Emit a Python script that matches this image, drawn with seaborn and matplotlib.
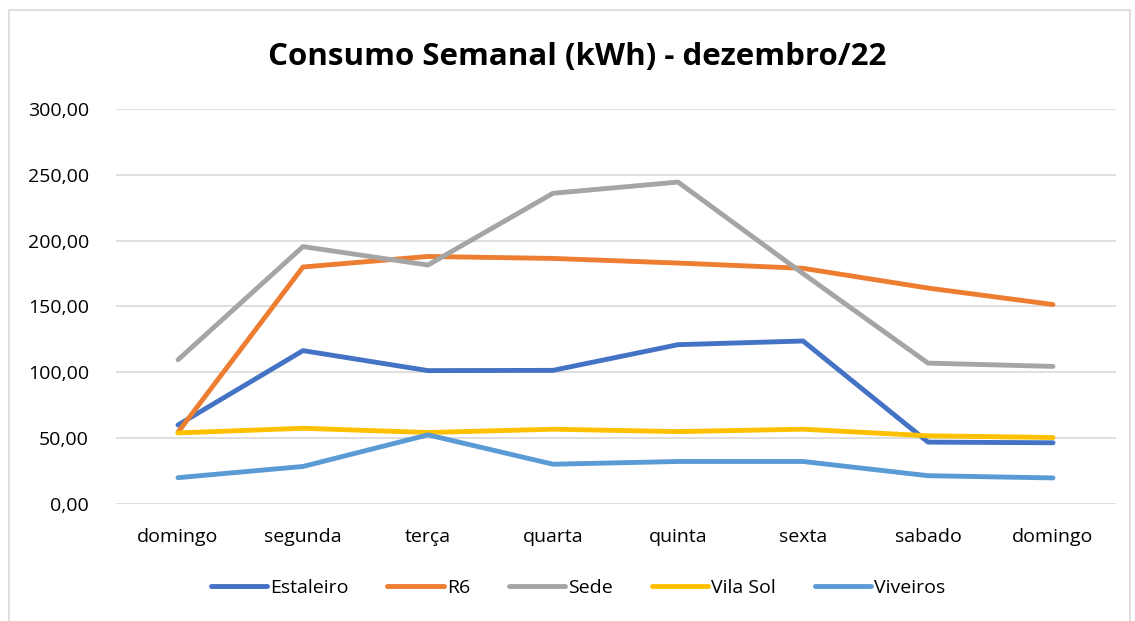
import pandas as pd
import seaborn as sns
import matplotlib.pyplot as plt
from matplotlib.ticker import FuncFormatter
from matplotlib.patches import Rectangle

dias = ["domingo", "segunda", "terça", "quarta", "quinta", "sexta", "sabado", "domingo"]

estaleiro = [60.0, 116.5, 101.3, 101.5, 121.0, 123.8, 47.0, 46.5]
r6 = [54.5, 180.0, 188.0, 186.5, 183.0, 179.0, 164.0, 151.5]
sede = [109.5, 195.5, 181.5, 236.0, 244.5, 175.0, 107.0, 104.5]
vila_sol = [54.0, 57.5, 54.3, 56.8, 55.0, 56.8, 51.8, 50.5]
viveiros = [20.0, 28.5, 52.5, 30.2, 32.3, 32.3, 21.5, 19.8]

series = {
    "Estaleiro": estaleiro,
    "R6": r6,
    "Sede": sede,
    "Vila Sol": vila_sol,
    "Viveiros": viveiros,
}
cores = ["#4472C4", "#ED7D31", "#A5A5A5", "#FFC000", "#5B9BD5"]

linhas = []
for nome, valores in series.items():
    for i, v in enumerate(valores):
        linhas.append({"pos": i, "dia": dias[i], "local": nome, "kwh": v})
df = pd.DataFrame(linhas)

sns.set_theme(style="white")
plt.rcParams['font.family'] = ['Open Sans', 'DejaVu Sans']
plt.rcParams['text.color'] = 'black'

fig = plt.figure(figsize=(11.35, 6.21), dpi=100)
ax = fig.add_axes([115.5 / 1135, 117 / 621, 1000 / 1135, 395 / 621])

sns.lineplot(data=df, x="pos", y="kwh", hue="local", palette=cores,
             linewidth=3.5, ax=ax, legend=False, solid_capstyle="round")

ax.set_xlim(-0.5, 7.5)
ax.set_ylim(0, 300)
ax.set_yticks(range(0, 301, 50))
ax.yaxis.set_major_formatter(FuncFormatter(lambda v, p: f"{v:.2f}".replace(".", ",")))
ax.set_xticks(range(len(dias)))
ax.set_xticklabels(dias)
ax.tick_params(axis="both", labelsize=14, length=0, colors="#000000")
ax.tick_params(axis="x", pad=17)
ax.tick_params(axis="y", pad=19)
ax.set_xlabel("")
ax.set_ylabel("")
ax.grid(axis="y", color="#D9D9D9", linewidth=1.2)
ax.set_axisbelow(True)
for s in ax.spines.values():
    s.set_visible(False)

# legenda manual com linhas
handles = [plt.Line2D([0], [0], color=c, linewidth=3.5, solid_capstyle="round") for c in cores]
fig.legend(handles, list(series.keys()), loc="center", bbox_to_anchor=(578 / 1135, 1 - 588 / 621),
           ncol=5, frameon=False, fontsize=14, handlelength=2.9, handletextpad=0.15, columnspacing=2.0)

fig.text(577 / 1135, 1 - 57 / 621, "Consumo Semanal (kWh) - dezembro/22",
         ha="center", va="center", fontsize=22.5, fontweight="bold", color="black")

fig.patches.append(Rectangle((9 / 1135, -0.01), 1121 / 1135, 1.01 - 10 / 621,
                             transform=fig.transFigure, fill=False, edgecolor="#D9D9D9", linewidth=1.2))

plt.savefig("out.png", dpi=100)
